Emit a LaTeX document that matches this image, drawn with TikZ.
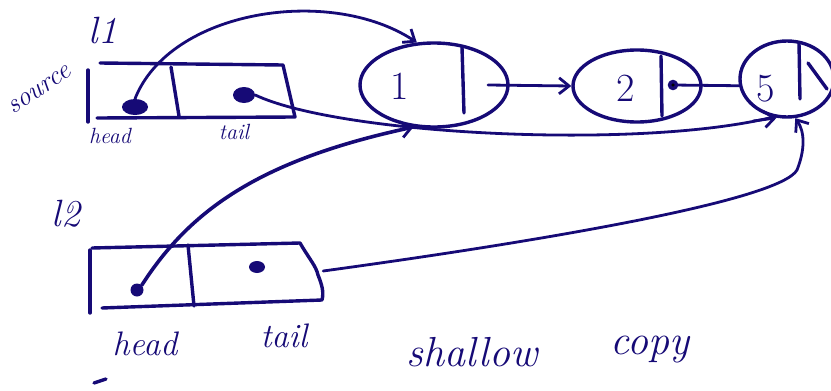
\documentclass[tikz,border=0pt]{standalone}
\usetikzlibrary{shapes.geometric,arrows.meta,calc}
\definecolor{ink}{RGB}{22,10,118}
\tikzset{
  ink/.style={draw=ink, line width=3.4pt, line cap=round, line join=round},
  conn/.style={ink, line width=2.8pt},
  tipped/.style={conn, -{Straight Barb[length=10pt,width=16pt,line width=2.8pt]}},
  listnode/.style={ellipse, ink, inner sep=0pt},
  dot/.style={ellipse, fill=ink, inner sep=0pt},
  lbl/.style={text=ink, font=\itshape, inner sep=0pt},
}
\begin{document}
\begin{tikzpicture}[x=1pt, y=-1pt]
\useasboundingbox (0,0) rectangle (831,391);

% ---- list l1 (source) ----
\node[lbl, font=\itshape\fontsize{38}{38}\selectfont] (l1name) at (103,31) {l1};
\node[lbl, font=\itshape\fontsize{27}{27}\selectfont, rotate=34] (src) at (40,90) {source};
\draw[ink] (88,70) -- (88,122);
\draw[ink] (100,63) -- (283,65) -- (295,117) -- (97,118);
\draw[ink] (171,67) -- (179,116);
\node[dot, minimum width=26pt, minimum height=16pt] (h1) at (135,107) {};
\node[dot, minimum width=22pt, minimum height=16pt] (t1) at (244,95) {};
\node[lbl, font=\itshape\fontsize{22}{22}\selectfont] (h1lbl) at (110,136) {head};
\node[lbl, font=\itshape\fontsize{22}{22}\selectfont] (t1lbl) at (234,132) {tail};

% ---- list l2 (the shallow copy) ----
\node[lbl, font=\itshape\fontsize{38}{38}\selectfont] (l2name) at (66,214) {l2};
\draw[ink] (90,250) -- (90,313);
\draw[ink] (92,248) -- (300,243) .. controls (310,260) and (316,266) .. (318,275)
  .. controls (322,285) and (324,292) .. (322,300) -- (102,308);
\draw[ink] (188,245) -- (194,306);
\node[dot, minimum width=13pt, minimum height=13pt] (h2) at (137,290) {};
\node[dot, minimum width=16pt, minimum height=12pt] (t2) at (257,267) {};
\node[lbl, font=\itshape\fontsize{34}{34}\selectfont] (h2lbl) at (145,344) {head};
\node[lbl, font=\itshape\fontsize{34}{34}\selectfont] (t2lbl) at (284,336) {tail};
\draw[ink] (94,383) -- (106,379);

% ---- the shared chain 1 -> 2 -> 5 ----
\node[listnode, minimum width=148pt, minimum height=84pt] (n1) at (434,85) {};
\node[listnode, minimum width=128pt, minimum height=72pt] (n2) at (637,86) {};
\node[listnode, minimum width=94pt, minimum height=76pt] (n5) at (787,79) {};
\draw[ink] ($(n1.center)+(28,-38)$) -- ($(n1.center)+(30,28)$);
\draw[ink] ($(n2.center)+(24,-30)$) -- ($(n2.center)+(25,30)$);
\draw[ink] ($(n5.center)+(12,-36)$) -- ($(n5.center)+(13,20)$);
\draw[ink] ($(n5.center)+(21,-16)$) -- ($(n5.center)+(40,10)$);
\node[text=ink, font=\fontsize{40}{40}\selectfont] (v1) at (400,86) {1};
\node[text=ink, font=\fontsize{40}{40}\selectfont] (v2) at (626,88) {2};
\node[text=ink, font=\fontsize{40}{40}\selectfont] (v5) at (766,89) {5};

\draw[tipped] ($(n1.center)+(54,0)$) -- (n2.west);
\draw[conn] ($(n2.center)+(36,-1)$) -- (n5.188);
\fill[ink] ($(n2.center)+(36,-1)$) circle (3.5pt);

% ---- references into the chain ----
\draw[tipped] (h1.north) .. controls (170,10) and (330,-15) .. (n1.112);
\draw[conn] (t1.east) .. controls (340,135) and (640,150) .. (n5.250);
\draw[tipped] (n5.250) ++(-20,4) -- (n5.255);
\draw[tipped, line width=3.6pt] (h2.north east) .. controls (190,210) and (260,160) .. (n1.244);
\draw[tipped] (t2.east) ++(58,4) .. controls (550,240) and (780,200) .. (797,170)
  .. controls (805,150) and (805,132) .. (n5.282);

% ---- caption ----
\node[lbl, font=\itshape\fontsize{42}{42}\selectfont] (cap1) at (472,352) {shallow};
\node[lbl, font=\itshape\fontsize{42}{42}\selectfont] (cap2) at (650,350) {copy};
\end{tikzpicture}
\end{document}
